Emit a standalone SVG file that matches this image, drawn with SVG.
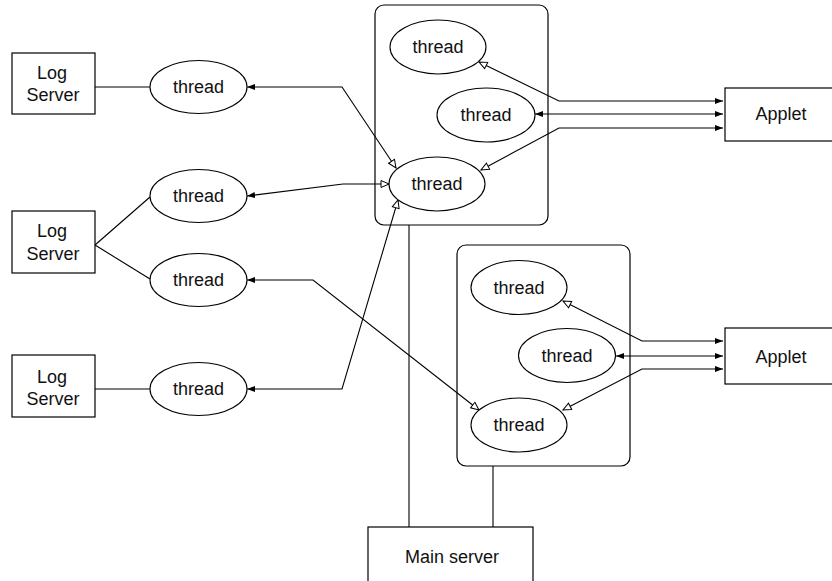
<svg xmlns="http://www.w3.org/2000/svg" width="832" height="581" viewBox="0 0 832 581">
  <style>
    .box { fill: #fff; stroke: #000; stroke-width: 1.2; }
    .oval { fill: #fff; stroke: #000; stroke-width: 1.1; }
    .wire { fill: none; stroke: #000; stroke-width: 1.1; }
    .lbl { font-family: "Liberation Sans", Arial, sans-serif; font-size: 18px; fill: #111; text-anchor: middle; }
  </style>
  <defs>
    <marker id="solid" viewBox="0 0 8 6" refX="8" refY="3" markerWidth="8" markerHeight="6" markerUnits="userSpaceOnUse" orient="auto-start-reverse">
      <path d="M0,0 L8,3 L0,6 Z" fill="#000"/>
    </marker>
    <marker id="hollow" viewBox="-1 -1 10 9" refX="8" refY="3.5" markerWidth="10" markerHeight="9" markerUnits="userSpaceOnUse" orient="auto-start-reverse">
      <path d="M0,0 L8,3.5 L0,7 Z" fill="#fff" stroke="#000" stroke-width="1"/>
    </marker>
  </defs>

  <!-- server containers and trunk lines -->
  <g id="container-a">
    <rect class="box" x="375" y="5" width="173" height="220" rx="9"/>
  </g>
  <g id="container-b">
    <rect class="box" x="457" y="245" width="173" height="221" rx="9"/>
  </g>

  <g id="connectors">
    <!-- log servers to their threads -->
    <path class="wire" d="M95,87 L150,87"/>
    <path class="wire" d="M95,245 L150,197"/>
    <path class="wire" d="M95,245 L150,279"/>
    <path class="wire" d="M95,389 L150,389"/>
    <!-- left threads to container threads -->
    <path class="wire" d="M247,87 L342,87 L396,168" marker-start="url(#solid)" marker-end="url(#hollow)"/>
    <path class="wire" d="M247,196 L343,184 L389,184" marker-start="url(#solid)" marker-end="url(#hollow)"/>
    <path class="wire" d="M247,280 L313,280 L479,410" marker-start="url(#solid)" marker-end="url(#hollow)"/>
    <path class="wire" d="M247,389 L342,389 L398,200" marker-start="url(#solid)" marker-end="url(#hollow)"/>
    <!-- container A threads to applet -->
    <path class="wire" d="M479,62 L559,101 L723,101" marker-start="url(#hollow)" marker-end="url(#solid)"/>
    <path class="wire" d="M535,114 L723,114" marker-start="url(#solid)" marker-end="url(#solid)"/>
    <path class="wire" d="M481,170 L559,128 L723,128" marker-start="url(#hollow)" marker-end="url(#solid)"/>
    <!-- container B threads to applet -->
    <path class="wire" d="M563,301 L642,341 L723,341" marker-start="url(#hollow)" marker-end="url(#solid)"/>
    <path class="wire" d="M616,356 L723,356" marker-start="url(#solid)" marker-end="url(#solid)"/>
    <path class="wire" d="M563,410 L642,369 L723,369" marker-start="url(#hollow)" marker-end="url(#solid)"/>
    <!-- containers to main server -->
    <path class="wire" d="M409,225 L409,527"/>
    <path class="wire" d="M493,466 L493,527"/>
  </g>

  <g id="log-server-1">
    <rect class="box" x="12" y="53" width="83" height="61"/>
    <text class="lbl" x="52" y="79">Log</text>
    <text class="lbl" x="53" y="101">Server</text>
  </g>
  <g id="log-server-2">
    <rect class="box" x="12" y="211" width="83" height="62"/>
    <text class="lbl" x="52" y="237">Log</text>
    <text class="lbl" x="53" y="260">Server</text>
  </g>
  <g id="log-server-3">
    <rect class="box" x="12" y="355" width="83" height="62"/>
    <text class="lbl" x="52" y="383">Log</text>
    <text class="lbl" x="53" y="405">Server</text>
  </g>

  <g id="thread-l1">
    <ellipse class="oval" cx="198.5" cy="87" rx="48.5" ry="26.5"/>
    <text class="lbl" x="198.5" y="93">thread</text>
  </g>
  <g id="thread-l2">
    <ellipse class="oval" cx="198.5" cy="196" rx="48.5" ry="26.5"/>
    <text class="lbl" x="198.5" y="202">thread</text>
  </g>
  <g id="thread-l3">
    <ellipse class="oval" cx="198.5" cy="280" rx="48.5" ry="26.5"/>
    <text class="lbl" x="198.5" y="286">thread</text>
  </g>
  <g id="thread-l4">
    <ellipse class="oval" cx="198.5" cy="389" rx="48.5" ry="26.5"/>
    <text class="lbl" x="198.5" y="395">thread</text>
  </g>

  <g id="thread-a1">
    <ellipse class="oval" cx="438" cy="47" rx="48" ry="27"/>
    <text class="lbl" x="438" y="53">thread</text>
  </g>
  <g id="thread-a2">
    <ellipse class="oval" cx="486" cy="115" rx="49" ry="27"/>
    <text class="lbl" x="486" y="121">thread</text>
  </g>
  <g id="thread-a3">
    <ellipse class="oval" cx="437" cy="184" rx="48" ry="27"/>
    <text class="lbl" x="437" y="190">thread</text>
  </g>

  <g id="thread-b1">
    <ellipse class="oval" cx="519" cy="287.5" rx="48" ry="27"/>
    <text class="lbl" x="519" y="293.5">thread</text>
  </g>
  <g id="thread-b2">
    <ellipse class="oval" cx="567" cy="355.5" rx="48.5" ry="27"/>
    <text class="lbl" x="567" y="361.5">thread</text>
  </g>
  <g id="thread-b3">
    <ellipse class="oval" cx="519" cy="425" rx="48" ry="27"/>
    <text class="lbl" x="519" y="431">thread</text>
  </g>

  <g id="applet-1">
    <rect class="box" x="725" y="88" width="115" height="53"/>
    <text class="lbl" x="781" y="120">Applet</text>
  </g>
  <g id="applet-2">
    <rect class="box" x="725" y="328" width="115" height="56"/>
    <text class="lbl" x="781" y="363">Applet</text>
  </g>

  <g id="main-server">
    <rect class="box" x="368" y="527" width="165" height="70"/>
    <text class="lbl" x="452" y="563">Main server</text>
  </g>
</svg>
